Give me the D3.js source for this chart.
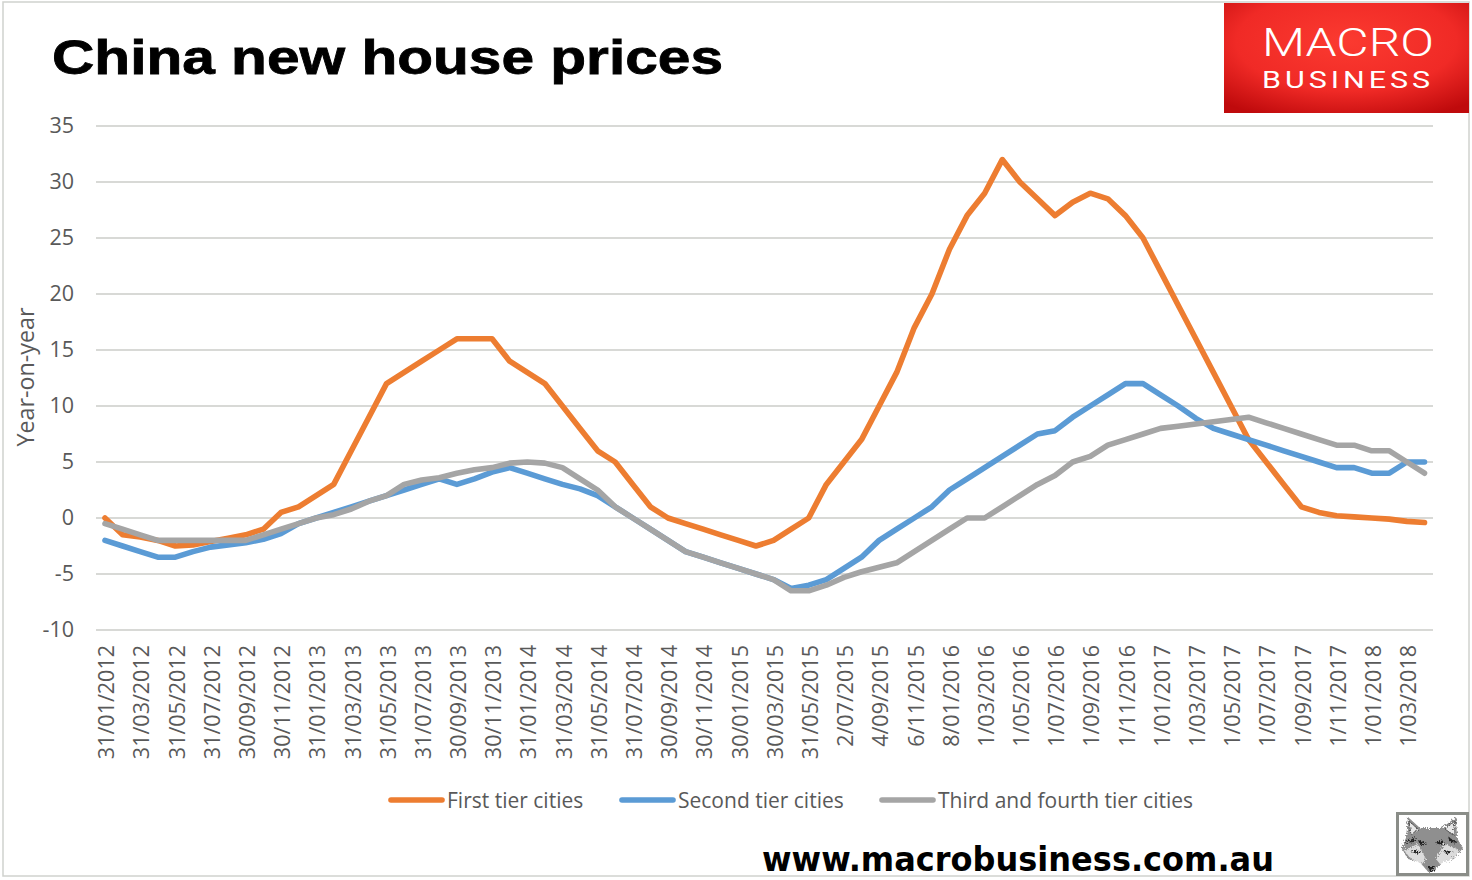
<!DOCTYPE html>
<html>
<head>
<meta charset="utf-8">
<script src="https://cdnjs.cloudflare.com/ajax/libs/d3/7.8.5/d3.min.js"></script>
<style>
body { margin: 0; background: #fff; }
text { font-family: "Open Sans", "Noto Sans", sans-serif; }
</style>
</head>
<body>
<div class="fig"></div>
<script>
const tickLabels = ["31/01/2012","31/03/2012","31/05/2012","31/07/2012","30/09/2012","30/11/2012",
  "31/01/2013","31/03/2013","31/05/2013","31/07/2013","30/09/2013","30/11/2013",
  "31/01/2014","31/03/2014","31/05/2014","31/07/2014","30/09/2014","30/11/2014",
  "30/01/2015","30/03/2015","31/05/2015","2/07/2015","4/09/2015","6/11/2015",
  "8/01/2016","1/03/2016","1/05/2016","1/07/2016","1/09/2016","1/11/2016",
  "1/01/2017","1/03/2017","1/05/2017","1/07/2017","1/09/2017","1/11/2017",
  "1/01/2018","1/03/2018"];
const yTicks = [-10,-5,0,5,10,15,20,25,30,35];

const firstTier = [0,-1.5,-1.7,-2,-2.5,-2.4,-2.1,-1.8,-1.5,-1,0.5,1,2,3,6,9,12,13,14,15,16,16,16,14,13,12,10,8,6,5,3,1,0,-0.5,-1,-1.5,-2,-2.5,-2,-1,0,3,5,7,10,13,17,20,24,27,29,32,30,28.5,27,28.2,29,28.5,27,25,22,19,16,13,10,7,5,3,1,0.5,0.2,0.1,0,-0.1,-0.3,-0.4];
const secondTier = [-2,-2.5,-3,-3.5,-3.5,-3,-2.6,-2.4,-2.2,-1.9,-1.4,-0.5,0,0.5,1,1.5,2,2.5,3,3.5,3,3.5,4.1,4.5,4,3.5,3,2.6,2,1,0,-1,-2,-3,-3.5,-4,-4.5,-5,-5.5,-6.3,-6,-5.5,-4.5,-3.5,-2,-1,0,1,2.5,3.5,4.5,5.5,6.5,7.5,7.8,9,10,11,12,12,11,10,8.9,8,7.5,7,6.5,6,5.5,5,4.5,4.5,4,4,5,5];
const thirdTier = [-0.5,-1,-1.5,-2,-2,-2,-2,-2,-2,-1.5,-1,-0.5,0,0.3,0.8,1.5,2,3,3.4,3.6,4,4.3,4.5,4.9,5,4.9,4.5,3.5,2.5,1,0,-1,-2,-3,-3.5,-4,-4.5,-5,-5.5,-6.5,-6.5,-6,-5.3,-4.8,-4.4,-4,-3,-2,-1,0,0,1,2,3,3.8,5,5.5,6.5,7,7.5,8,8.2,8.4,8.6,8.8,9,8.5,8,7.5,7,6.5,6.5,6,6,5,4];

const seriesNames = ["First tier cities","Second tier cities","Third and fourth tier cities"];
const seriesColors = ["#ED7D31","#5B9BD5","#A5A5A5"];
const seriesValues = [firstTier, secondTier, thirdTier];

const svg = d3.select(".fig").append("svg")
  .attr("width", 1472)
  .attr("height", 880)
  .style("display", "block");

const defs = svg.append("defs");
const grad = defs.append("radialGradient").attr("id", "red")
  .attr("cx", "50%").attr("cy", "35%").attr("r", "75%");
grad.append("stop").attr("offset", "0%").attr("stop-color", "#fb3a30");
grad.append("stop").attr("offset", "60%").attr("stop-color", "#f02a26");
grad.append("stop").attr("offset", "100%").attr("stop-color", "#bf0a0c");

// rough pen look for the fox
const rough = defs.append("filter").attr("id", "rough")
  .attr("x", "0").attr("y", "0").attr("width", "100%").attr("height", "100%");
rough.append("feTurbulence").attr("type", "fractalNoise")
  .attr("baseFrequency", 0.7).attr("numOctaves", 2).attr("seed", 4).attr("result", "n");
rough.append("feDisplacementMap").attr("in", "SourceGraphic").attr("in2", "n")
  .attr("scale", 6);

// picture frame
svg.append("rect")
  .attr("x", 3).attr("y", 2).attr("width", 1466).attr("height", 874)
  .attr("fill", "none").attr("stroke", "#d0d2ce").attr("stroke-width", 1.5);

const x = d3.scaleLinear().domain([0, 75]).range([105, 1424.5]);
const y = d3.scaleLinear().domain([-10, 35]).range([630, 126]);

// gridlines
svg.append("g").selectAll("line")
  .data(yTicks)
  .enter().append("line")
  .attr("x1", 96).attr("x2", 1433)
  .attr("y1", d => y(d)).attr("y2", d => y(d))
  .attr("stroke", "#cbcdc9").attr("stroke-width", 1.6);

// y axis
const yAxis = svg.append("g")
  .attr("transform", "translate(96,0)")
  .call(d3.axisLeft(y).tickValues(yTicks).tickFormat(d => String(d)).tickSize(0).tickPadding(22));
yAxis.select(".domain").remove();
yAxis.selectAll("text")
  .style("font-size", "21.5px")
  .style("font-family", "'Open Sans'")
  .attr("fill", "#595959");

// x axis
const xAxis = svg.append("g")
  .attr("transform", "translate(1,630)")
  .call(d3.axisBottom(x)
    .tickValues(tickLabels.map((d, i) => i * 2))
    .tickFormat((d) => tickLabels[d / 2])
    .tickSize(0));
xAxis.select(".domain").remove();
xAxis.selectAll("text")
  .attr("transform", "rotate(-90)")
  .attr("x", -15).attr("y", 0).attr("dy", "0.36em")
  .style("text-anchor", "end")
  .style("font-size", "21.5px")
  .attr("fill", "#595959");

// lines
const line = d3.line().x((d, i) => x(i)).y(d => y(d));
svg.append("g").selectAll("path")
  .data(seriesValues)
  .enter().append("path")
  .attr("d", d => line(d))
  .attr("fill", "none")
  .attr("stroke", (d, i) => seriesColors[i])
  .attr("stroke-width", 5.6)
  .attr("stroke-linecap", "round")
  .attr("stroke-linejoin", "round");

// y title
svg.append("text")
  .attr("transform", "translate(34,377) rotate(-90)")
  .attr("text-anchor", "middle")
  .style("font-size", "23.3px")
  .attr("fill", "#595959")
  .text("Year-on-year");

// legend
const legendX = [389, 620, 880];
const legend = svg.append("g").selectAll("g")
  .data(seriesNames)
  .enter().append("g")
  .attr("transform", (d, i) => "translate(" + legendX[i] + ",800)");
legend.append("line")
  .attr("x1", 2).attr("x2", 53)
  .attr("stroke", (d, i) => seriesColors[i])
  .attr("stroke-width", 5.6)
  .attr("stroke-linecap", "round");
legend.append("text")
  .attr("x", 58).attr("y", 8)
  .style("font-size", "21px")
  .attr("fill", "#595959")
  .text(d => d);

// title
svg.append("text")
  .attr("x", 52).attr("y", 74)
  .attr("textLength", 671).attr("lengthAdjust", "spacingAndGlyphs")
  .style("font-family", "'Liberation Sans'")
  .style("font-weight", "bold")
  .style("font-size", "49px")
  .attr("stroke", "#000").attr("stroke-width", 0.8)
  .attr("fill", "#000")
  .text("China new house prices");

// logo
svg.append("rect")
  .attr("x", 1224).attr("y", 3).attr("width", 245).attr("height", 110)
  .attr("fill", "url(#red)");
svg.append("text")
  .attr("x", 1262).attr("y", 56)
  .attr("textLength", 172).attr("lengthAdjust", "spacingAndGlyphs")
  .style("font-family", "Roboto").style("font-weight", 300)
  .style("font-size", "39px").attr("fill", "#fff")
  .text("MACRO");
svg.append("text")
  .attr("x", 1262).attr("y", 88)
  .attr("textLength", 172).attr("lengthAdjust", "spacingAndGlyphs")
  .style("font-family", "Roboto").style("font-weight", 400)
  .style("letter-spacing", "3px")
  .style("font-size", "23px").attr("fill", "#fff")
  .text("BUSINESS");

// website
svg.append("text")
  .attr("x", 762).attr("y", 871)
  .attr("textLength", 512).attr("lengthAdjust", "spacingAndGlyphs")
  .style("font-family", "'DejaVu Sans'")
  .style("font-weight", "bold")
  .style("font-size", "33px")
  .attr("fill", "#000")
  .text("www.macrobusiness.com.au");

// fox badge
const fox = svg.append("g").attr("transform", "translate(1396,812)");
fox.append("rect")
  .attr("x", 1.5).attr("y", 1.5).attr("width", 70).attr("height", 61)
  .attr("fill", "#fff").attr("stroke", "#8a8d88").attr("stroke-width", 3);
const foxFace = fox.append("g").attr("filter", "url(#rough)");
foxFace.append("path")
  .attr("d", "M12 5L24 16H46L60 5L61 26L67 36L58 47L46 50L38 60H32L24 50L12 47L5 36L10 26Z")
  .attr("fill", "#8f8f8f");
foxFace.append("path")
  .attr("d", "M13 9L22 17L15 23Z M59 9L49 17L57 23Z")
  .attr("fill", "#e8e8e8").attr("stroke", "#555").attr("stroke-width", 1);
foxFace.append("path")
  .attr("d", "M8 38L22 32L30 47L26 52L14 46Z M64 38L48 32L40 47L44 52L58 46Z")
  .attr("fill", "#dcdcdc");
foxFace.append("path")
  .attr("d", "M22 28L31 31L24 33Z M48 28L39 31L46 33Z M31 54H39L35 61Z M8 31L20 25L18 30Z M63 31L52 25L54 30Z M14 40L24 38L22 42Z M58 40L48 38L50 42Z")
  .attr("fill", "#222");
</script>
</body>
</html>
